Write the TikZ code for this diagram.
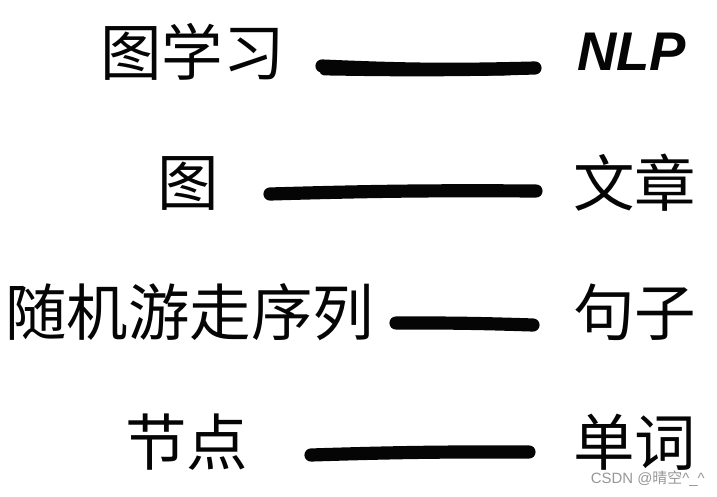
\documentclass[tikz,border=0pt]{standalone}
\usepackage{fontspec}
\setmainfont{Noto Sans CJK SC}
\newfontfamily\latinfont{Liberation Sans}
\usetikzlibrary{positioning, calc}
\definecolor{InkBlack}{RGB}{5, 5, 5}
\definecolor{MarkGray}{RGB}{150, 150, 150}

\begin{document}
\begin{tikzpicture}[
    x=0.02cm, y=-0.02cm,
    word/.style={inner sep=0pt, anchor=west, text=InkBlack, font=\fontsize{35}{35}\selectfont},
    hand/.style={inner sep=0pt, anchor=west, text=InkBlack, font=\latinfont\bfseries\itshape\fontsize{31}{31}\selectfont},
    stroke/.style={draw=InkBlack, line width=7.5pt, line cap=round}
]
    \useasboundingbox (0,0) rectangle (717,497);

    % Nodes placement
    \node (graph)  [word] at (100,52)  {图学习};
    \node (nlp)    [hand] at (577,52)  {NLP};
    \node (g)      [word] at (157,183) {图};
    \node (doc)    [word] at (573,183) {文章};
    \node (walk)   [word] at (5,312)   {随机游走序列};
    \node (sent)   [word] at (573,312) {句子};
    \node (vertex) [word] at (125,442) {节点};
    \node (token)  [word] at (573,442) {单词};

    % Stroke ends
    \coordinate (a1) at (322,66);  \coordinate (b1) at (535,68);
    \coordinate (a2) at (270,194); \coordinate (b2) at (536,191);
    \coordinate (a3) at (396,323); \coordinate (b3) at (533,325);
    \coordinate (a4) at (311,455); \coordinate (b4) at (529,452);

    % Hand-drawn links
    \draw [stroke] (a1) to[bend right=2] (b1);
    \draw [stroke, line width=5pt] ($(a1)+(2,5)$) to[bend right=1] ($(b1)+(-25,3)$);
    \draw [stroke] (a2) to[bend left=1] (b2);
    \draw [stroke] (a3) to[bend left=1] (b3);
    \draw [stroke] (a4) to[bend left=1] (b4);

    % Watermark
    \node [inner sep=0pt, anchor=east, text=MarkGray, font=\fontsize{8.5}{8.5}\selectfont] at (705,479) {{\latinfont CSDN @}晴空{\latinfont \^{}\_\^{}}};

\end{tikzpicture}
\end{document}
